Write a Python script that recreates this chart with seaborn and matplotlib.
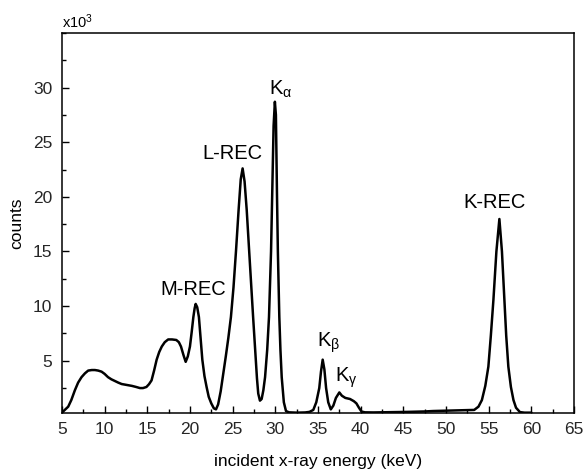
import matplotlib
matplotlib.use("Agg")
import matplotlib.pyplot as plt
import seaborn as sns
import pandas as pd
from matplotlib.ticker import MultipleLocator

# incident x-ray energy (keV)
energy = [5.0, 5.4, 5.74, 6.1, 6.52, 6.9, 7.3, 7.7, 8.08, 8.5, 8.87, 9.25, 9.65, 10.0,
          10.4, 10.8, 11.2, 11.6, 12.0, 12.6, 13.2, 13.7, 14.14, 14.5, 14.9, 15.2, 15.5,
          15.8, 16.1, 16.4, 16.7, 17.05, 17.45, 17.9, 18.4, 18.7, 18.95, 19.25, 19.5,
          19.75, 20.0, 20.2, 20.4, 20.55, 20.67, 20.85, 21.05, 21.25, 21.45, 21.7, 21.95,
          22.2, 22.5, 22.8, 23.05, 23.3, 23.6, 23.9, 24.2, 24.5, 24.8, 25.1, 25.4, 25.7,
          25.95, 26.17, 26.4, 26.65, 26.9, 27.15, 27.4, 27.65, 27.85, 28.0, 28.2, 28.4,
          28.6, 28.8, 29.05, 29.26, 29.5, 29.7, 29.8, 29.95, 30.07, 30.2, 30.3, 30.47,
          30.6, 30.75, 31.0, 31.25, 31.6, 32.5, 33.5, 34.0, 34.45, 34.8, 35.15, 35.35,
          35.55, 35.75, 35.95, 36.2, 36.5, 36.8, 37.1, 37.5, 37.8, 38.2, 38.75, 39.2,
          39.5, 39.8, 40.1, 40.5, 41.5, 42.5, 43.5, 44.5, 45.5, 46.5, 47.5, 48.5, 49.5,
          50.5, 51.5, 52.5, 53.3, 53.8, 54.2, 54.6, 54.96, 55.25, 55.55, 55.9, 56.25,
          56.55, 56.84, 57.05, 57.3, 57.6, 57.9, 58.2, 58.66, 59.2, 60.0]
# counts (x10^3)
counts = [0.25, 0.55, 0.8, 1.4, 2.3, 3.0, 3.5, 3.85, 4.1, 4.15, 4.15, 4.1, 4.0, 3.8,
          3.5, 3.3, 3.15, 3.0, 2.87, 2.78, 2.7, 2.6, 2.5, 2.5, 2.6, 2.85, 3.2,
          4.1, 5.1, 5.8, 6.3, 6.7, 6.95, 6.95, 6.9, 6.7, 6.3, 5.5, 4.9,
          5.4, 6.3, 7.6, 9.0, 9.8, 10.2, 9.9, 9.0, 7.1, 5.1, 3.6, 2.6,
          1.7, 1.1, 0.65, 0.55, 1.0, 2.2, 3.8, 5.4, 7.1, 9.0, 11.7, 15.1, 18.8,
          21.6, 22.6, 21.4, 18.8, 15.5, 12.2, 9.0, 5.8, 3.4, 2.0, 1.35, 1.5,
          2.3, 3.5, 6.0, 9.0, 15.0, 22.5, 26.5, 28.7, 27.5, 20.0, 15.0, 9.0,
          6.0, 3.5, 1.2, 0.4, 0.28, 0.25, 0.27, 0.32, 0.5, 1.2, 2.5, 4.0,
          5.1, 4.2, 2.5, 1.2, 0.55, 0.9, 1.6, 2.1, 1.8, 1.6, 1.5, 1.3,
          1.1, 0.7, 0.35, 0.28, 0.27, 0.28, 0.3, 0.3, 0.32, 0.34, 0.36, 0.4, 0.42,
          0.45, 0.45, 0.47, 0.5, 0.8, 1.4, 2.7, 4.46, 7.3, 10.56, 15.0, 17.97,
          15.0, 10.56, 7.3, 4.46, 2.6, 1.4, 0.7, 0.3, 0.25, 0.25]

peak_labels = ["M-REC", "L-REC", r"K$_\mathregular{\alpha}$", r"K$_\mathregular{\beta}$",
               r"K$_\mathregular{\gamma}$", "K-REC"]
label_x = [16.5, 21.5, 29.3, 34.85, 37.0, 52.0]
label_y = [11.0, 23.5, 29.3, 6.3, 3.1, 19.0]

xticks = [5, 10, 15, 20, 25, 30, 35, 40, 45, 50, 55, 60, 65]
yticks = [5, 10, 15, 20, 25, 30]

sns.set_theme(style="white")
plt.rcParams["font.family"] = ["Liberation Sans", "DejaVu Sans"]
plt.rcParams["mathtext.fontset"] = "custom"
plt.rcParams["mathtext.rm"] = "Liberation Sans"
plt.rcParams["mathtext.it"] = "Liberation Sans:italic"

df = pd.DataFrame({"energy": energy, "counts": counts})

fig = plt.figure(figsize=(5.84, 4.70), dpi=100)
ax = fig.add_axes([0.106, 0.122, 0.877, 0.808])
sns.lineplot(data=df, x="energy", y="counts", ax=ax, color="black", lw=1.8,
             sort=False, estimator=None)

ax.set_xlim(5, 65)
ax.set_ylim(0.25, 35)
ax.set_xticks(xticks)
ax.set_yticks(yticks)
ax.xaxis.set_minor_locator(MultipleLocator(2.5))
ax.yaxis.set_minor_locator(MultipleLocator(2.5))
ax.tick_params(which="both", direction="in", top=False, right=False,
               bottom=True, left=True, color="black", width=1.0, labelsize=12.5)
ax.tick_params(which="major", length=5, pad=7)
ax.tick_params(which="minor", length=3)
for s in ax.spines.values():
    s.set_color("black")
    s.set_linewidth(1.1)

ax.set_xlabel("incident x-ray energy (keV)", fontsize=12.5, labelpad=12, color="black")
ax.set_ylabel("counts", fontsize=12.5, labelpad=6, color="black")
ax.text(0, 1.013, r"x10$^3$", transform=ax.transAxes, ha="left", va="baseline",
        fontsize=10.5, color="black")

for t, lx, ly in zip(peak_labels, label_x, label_y):
    ax.text(lx, ly, t, ha="left", va="baseline", fontsize=14.5, color="black")

fig.savefig("out.png", dpi=100)
